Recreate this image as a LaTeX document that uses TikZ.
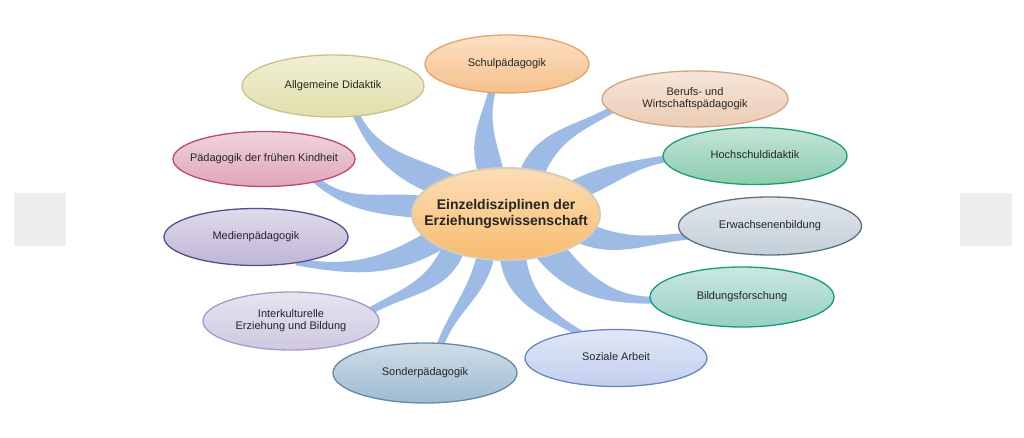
\documentclass[tikz,border=0pt]{standalone}
\usepackage{fontspec}
\setmainfont{Liberation Sans}
\usetikzlibrary{calc,backgrounds,shapes.geometric}

\definecolor{branchblue}{HTML}{9DBBE5}
\definecolor{boxgray}{HTML}{EEEEEE}
\definecolor{mainc}{HTML}{F8BC6E}\definecolor{mainb}{HTML}{D9CCB5}
\definecolor{schulc}{HTML}{F6C08A}\definecolor{schulb}{HTML}{E6A36A}
\definecolor{allgc}{HTML}{E1DFAA}\definecolor{allgb}{HTML}{C8C38C}
\definecolor{berufc}{HTML}{EBCCB4}\definecolor{berufb}{HTML}{D2A582}
\definecolor{fruehc}{HTML}{DFA6BA}\definecolor{fruehb}{HTML}{BA4A70}
\definecolor{hochc}{HTML}{8ACCAE}\definecolor{hochb}{HTML}{1E9E72}
\definecolor{medienc}{HTML}{BFB5D7}\definecolor{medienb}{HTML}{5A4D8C}
\definecolor{erwc}{HTML}{C4CFD8}\definecolor{erwb}{HTML}{587282}
\definecolor{bildfc}{HTML}{96D0C1}\definecolor{bildfb}{HTML}{16997F}
\definecolor{interc}{HTML}{CFC8E1}\definecolor{interb}{HTML}{A49BC6}
\definecolor{sonderc}{HTML}{9EBBD1}\definecolor{sonderb}{HTML}{6788A3}
\definecolor{sozialc}{HTML}{C2CFEE}\definecolor{sozialb}{HTML}{6685C7}

\newcommand{\bubtext}[1]{\makebox[0pt]{\begin{tabular}{@{}c@{}}#1\end{tabular}}}
% target, anchor, left/right angle on the centre, out, in
\newcommand{\branch}[6]{%
  \fill[branchblue] ($(#1.#2)+({#5+180}:4)+({#5+90}:3.5)$) to[out=#5,in=#6] (c.#3)
    -- (c.#4) to[out=#6,in=#5] ($(#1.#2)+({#5+180}:4)+({#5-90}:3.5)$) -- cycle;}

\begin{document}
\begin{tikzpicture}[x=1pt,y=1pt,
  bub/.style 2 args={ellipse, draw=#2, line width=1.3pt, top color=#1!50!white,
    bottom color=#1, inner sep=0pt, text=black!85, font=\fontsize{11}{12.5}\selectfont}]
\useasboundingbox (0,0) rectangle (1024,438);

\node[bub={mainc}{mainb}, line width=2pt, minimum width=188pt, minimum height=92pt,
  font=\fontsize{14}{16.5}\selectfont\bfseries] (c) at (506,224)
  {\bubtext{Einzeldisziplinen der\\Erziehungswissenschaft}};

\node[bub={schulc}{schulb}, minimum width=164pt, minimum height=58pt] (schul) at (507,374) {\bubtext{Schulpädagogik}};
\node[bub={allgc}{allgb}, minimum width=182pt, minimum height=62pt] (allg) at (333,352) {\bubtext{Allgemeine Didaktik}};
\node[bub={berufc}{berufb}, minimum width=186pt, minimum height=56pt] (beruf) at (695,339) {\bubtext{Berufs- und\\Wirtschaftspädagogik}};
\node[bub={fruehc}{fruehb}, minimum width=182pt, minimum height=55pt] (frueh) at (264,279) {\bubtext{Pädagogik der frühen Kindheit}};
\node[bub={hochc}{hochb}, minimum width=184pt, minimum height=57pt] (hoch) at (755,282) {\bubtext{Hochschuldidaktik}};
\node[bub={medienc}{medienb}, minimum width=184pt, minimum height=57pt] (medien) at (256,201) {\bubtext{Medienpädagogik}};
\node[bub={erwc}{erwb}, minimum width=183pt, minimum height=58pt] (erw) at (770,212) {\bubtext{Erwachsenenbildung}};
\node[bub={bildfc}{bildfb}, minimum width=184pt, minimum height=60pt] (bildf) at (742,141) {\bubtext{Bildungsforschung}};
\node[bub={interc}{interb}, minimum width=176pt, minimum height=58pt] (inter) at (291,117) {\bubtext{Interkulturelle\\Erziehung und Bildung}};
\node[bub={sonderc}{sonderb}, minimum width=184pt, minimum height=60pt] (sonder) at (425,65) {\bubtext{Sonderpädagogik}};
\node[bub={sozialc}{sozialb}, minimum width=182pt, minimum height=57pt] (sozial) at (616,80) {\bubtext{Soziale Arbeit}};

\node[fill=boxgray, minimum width=52pt, minimum height=53pt, inner sep=0pt] (prev) at (40,218.5) {};
\node[fill=boxgray, minimum width=52pt, minimum height=53pt, inner sep=0pt] (next) at (986,218.5) {};

\begin{scope}[on background layer]
\fill[white] (0,0) rectangle (1024,438);
\branch{schul}{242}{94}{123}{255}{105}
\branch{allg}{308}{143}{164}{295}{155}
\branch{beruf}{188}{47}{72}{210}{65}
\branch{hoch}{182}{13}{27}{190}{25}
\branch{frueh}{337}{168}{182}{320}{175}
\branch{medien}{330}{194}{209}{350}{210}
\branch{inter}{8}{208}{224}{30}{245}
\branch{sonder}{62}{236}{255}{70}{255}
\branch{sozial}{146}{263}{294}{150}{280}
\branch{bildf}{182}{305}{330}{180}{310}
\branch{erw}{187}{338}{352}{185}{340}
\end{scope}
\end{tikzpicture}
\end{document}
